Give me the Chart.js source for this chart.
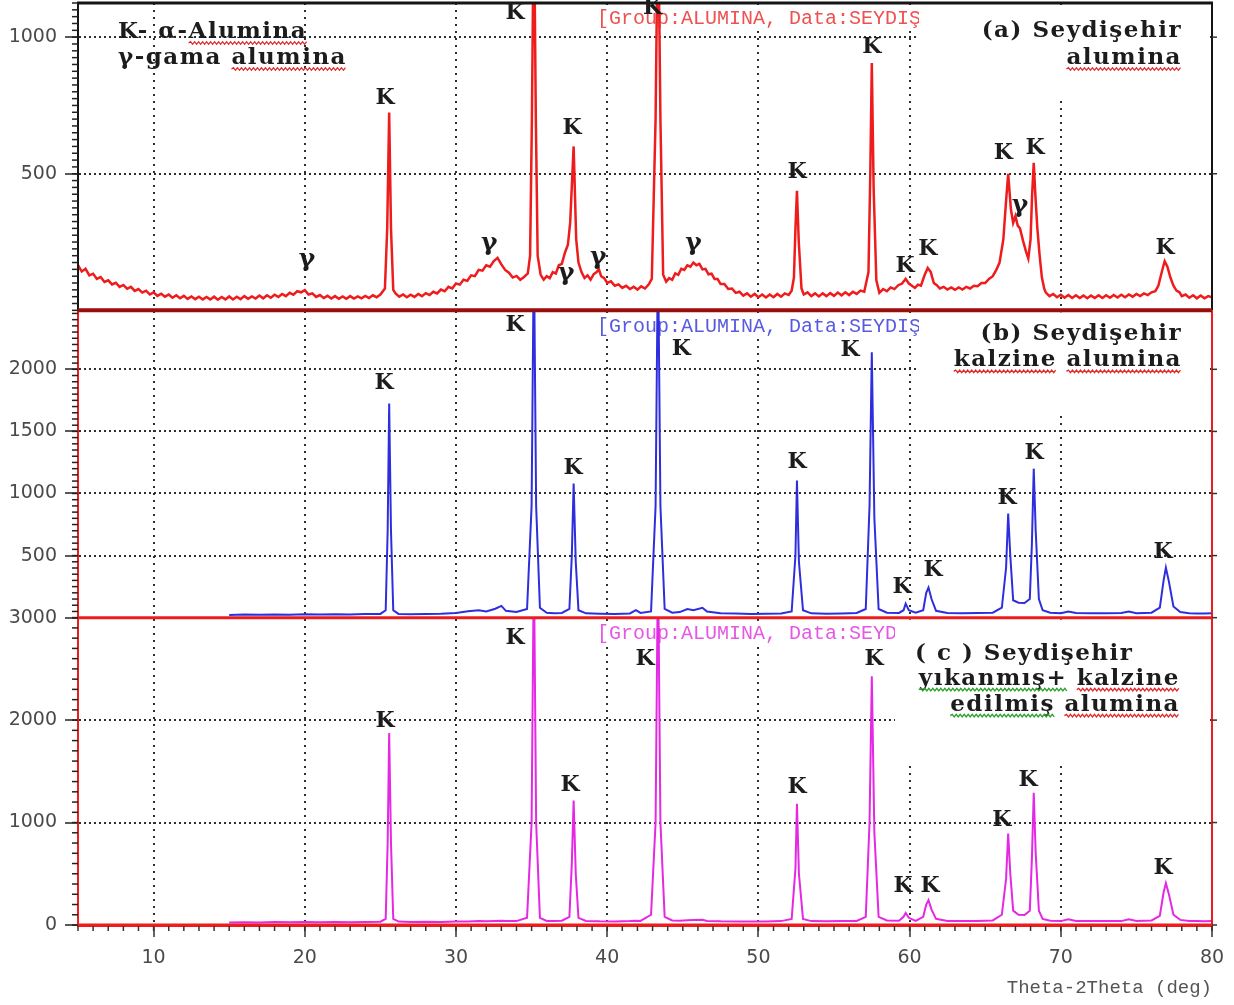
<!DOCTYPE html>
<html>
<head>
<meta charset="utf-8">
<title>XRD - Seydişehir alumina</title>
<script src="https://cdn.jsdelivr.net/npm/chart.js@4.4.1/dist/chart.umd.min.js"></script>
<style>
  html, body { margin: 0; padding: 0; background: #fff; }
</style>
</head>
<body>
<canvas id="xrd" width="1234" height="1005"></canvas>
<script>
// 2-theta tick labels
const xTicks = [10, 20, 30, 40, 50, 60, 70, 80];

// intensity tick labels for each panel
const aTicks = [500, 1000];
const bTicks = [500, 1000, 1500, 2000];
const cTicks = [0, 1000, 2000, 3000];

// (a) Seydişehir alumina  (2θ in deg, counts)
const aAngle = [
  5.00, 5.25, 5.50, 5.75, 6.00, 6.25, 6.50, 6.75, 7.00, 7.25,
  7.50, 7.75, 8.00, 8.25, 8.50, 8.75, 9.00, 9.25, 9.50, 9.75,
  10.00, 10.25, 10.50, 10.75, 11.00, 11.25, 11.50, 11.75, 12.00, 12.25,
  12.50, 12.75, 13.00, 13.25, 13.50, 13.75, 14.00, 14.25, 14.50, 14.75,
  15.00, 15.25, 15.50, 15.75, 16.00, 16.25, 16.50, 16.75, 17.00, 17.25,
  17.50, 17.75, 18.00, 18.25, 18.50, 18.75, 19.00, 19.25, 19.50, 19.75,
  20.00, 20.25, 20.50, 20.75, 21.00, 21.25, 21.50, 21.75, 22.00, 22.25,
  22.50, 22.75, 23.00, 23.25, 23.50, 23.75, 24.00, 24.25, 24.50, 24.75,
  25.00, 25.30, 25.45, 25.58, 25.70, 25.85, 26.00, 26.25, 26.50, 26.75,
  27.00, 27.25, 27.50, 27.75, 28.00, 28.25, 28.50, 28.75, 29.00, 29.25,
  29.50, 29.75, 30.00, 30.25, 30.50, 30.75, 31.00, 31.25, 31.50, 31.75,
  32.00, 32.25, 32.50, 32.75, 33.00, 33.25, 33.50, 33.75, 34.00, 34.25,
  34.50, 34.75, 34.90, 35.02, 35.15, 35.28, 35.40, 35.60, 35.80, 36.00,
  36.20, 36.40, 36.60, 36.80, 37.00, 37.20, 37.40, 37.55, 37.78, 37.95,
  38.10, 38.30, 38.50, 38.70, 38.90, 39.10, 39.30, 39.45, 39.60, 39.80,
  40.00, 40.25, 40.50, 40.75, 41.00, 41.25, 41.50, 41.75, 42.00, 42.25,
  42.50, 42.75, 42.95, 43.20, 43.36, 43.52, 43.70, 43.90, 44.10, 44.30,
  44.50, 44.70, 44.90, 45.10, 45.30, 45.50, 45.70, 45.90, 46.10, 46.30,
  46.50, 46.70, 46.90, 47.10, 47.30, 47.50, 47.75, 48.00, 48.25, 48.50,
  48.75, 49.00, 49.25, 49.50, 49.75, 50.00, 50.25, 50.50, 50.75, 51.00,
  51.25, 51.50, 51.75, 52.00, 52.20, 52.35, 52.45, 52.55, 52.67, 52.85,
  53.00, 53.25, 53.50, 53.75, 54.00, 54.25, 54.50, 54.75, 55.00, 55.25,
  55.50, 55.75, 56.00, 56.25, 56.50, 56.75, 57.00, 57.28, 57.40, 57.50,
  57.62, 57.80, 58.00, 58.25, 58.50, 58.75, 59.00, 59.25, 59.50, 59.74,
  59.95, 60.15, 60.35, 60.55, 60.75, 61.00, 61.20, 61.40, 61.60, 61.80,
  62.00, 62.25, 62.50, 62.75, 63.00, 63.25, 63.50, 63.75, 64.00, 64.25,
  64.50, 64.75, 65.00, 65.25, 65.50, 65.75, 65.95, 66.20, 66.38, 66.52,
  66.70, 66.85, 67.00, 67.15, 67.30, 67.50, 67.70, 67.85, 68.00, 68.10,
  68.21, 68.32, 68.45, 68.60, 68.75, 68.90, 69.00, 69.25, 69.50, 69.75,
  70.00, 70.25, 70.50, 70.75, 71.00, 71.25, 71.50, 71.75, 72.00, 72.25,
  72.50, 72.75, 73.00, 73.25, 73.50, 73.75, 74.00, 74.25, 74.50, 74.75,
  75.00, 75.25, 75.50, 75.75, 76.00, 76.25, 76.45, 76.70, 76.87, 77.05,
  77.25, 77.45, 77.65, 77.85, 78.00, 78.25, 78.50, 78.75, 79.00, 79.25,
  79.50, 79.75, 80.00
];
const aCounts = [
  165, 142, 152, 128, 134, 115, 122, 104, 110, 95,
  101, 86, 93, 79, 86, 71, 78, 65, 72, 58,
  66, 53, 61, 50, 58, 46, 55, 44, 53, 42,
  51, 41, 50, 40, 49, 40, 50, 39, 49, 40,
  51, 40, 50, 41, 52, 42, 51, 43, 54, 44,
  55, 46, 57, 49, 60, 52, 64, 57, 70, 66,
  74, 58, 62, 49, 56, 45, 53, 43, 52, 42,
  51, 42, 52, 43, 51, 44, 53, 45, 55, 48,
  58, 80, 300, 724, 300, 75, 62, 50, 58, 48,
  57, 49, 60, 52, 63, 56, 68, 62, 76, 70,
  86, 80, 98, 94, 112, 108, 128, 125, 148, 145,
  165, 160, 180, 192, 168, 148, 138, 120, 126, 112,
  122, 135, 200, 700, 1500, 700, 200, 130, 112, 125,
  118, 140, 135, 165, 170, 210, 240, 320, 600, 260,
  175, 140, 118, 128, 112, 132, 140, 150, 125, 118,
  100, 106, 90, 95, 82, 90, 78, 86, 76, 88,
  80, 95, 115, 700, 1500, 700, 130, 105, 118, 112,
  135, 130, 152, 148, 165, 160, 175, 165, 170, 150,
  152, 132, 134, 115, 115, 96, 96, 78, 80, 64,
  68, 54, 62, 50, 60, 48, 58, 47, 58, 48,
  60, 50, 62, 56, 72, 120, 300, 438, 250, 80,
  58, 66, 52, 62, 51, 62, 52, 63, 53, 65,
  55, 66, 56, 68, 60, 72, 68, 140, 500, 905,
  450, 110, 64, 78, 70, 84, 78, 92, 98, 115,
  98, 90, 82, 94, 90, 130, 155, 140, 100, 92,
  80, 86, 76, 84, 75, 84, 76, 86, 80, 90,
  88, 100, 100, 115, 125, 150, 175, 260, 400, 500,
  370, 320, 345, 310, 300, 255, 215, 190, 260, 420,
  540, 420, 300, 200, 120, 80, 66, 52, 60, 48,
  57, 46, 56, 45, 55, 45, 54, 44, 54, 45,
  55, 45, 55, 46, 56, 47, 57, 48, 58, 50,
  60, 52, 62, 56, 66, 70, 90, 145, 180, 160,
  120, 90, 72, 66, 52, 58, 46, 55, 44, 54,
  44, 52, 48
];

// (b) kalzine and (c) yıkanmış + kalzine: both scanned from 15 deg
const bcAngle = [
  15.0, 16.0, 17.0, 18.0, 19.0, 20.0, 21.0, 22.0, 23.0, 24.0,
  25.0, 25.35, 25.48, 25.58, 25.7, 25.85, 26.2, 27.0, 28.0, 29.0,
  30.0, 30.8, 31.5, 32.0, 32.6, 33.0, 33.3, 34.0, 34.7, 35.0,
  35.15, 35.3, 35.55, 36.0, 36.5, 37.0, 37.5, 37.66, 37.78, 37.92,
  38.1, 38.6, 39.5, 40.5, 41.5, 41.9, 42.2, 42.9, 43.2, 43.36,
  43.52, 43.8, 44.3, 44.8, 45.3, 45.7, 46.3, 46.6, 47.5, 48.5,
  49.5, 50.5, 51.5, 52.2, 52.45, 52.55, 52.68, 52.95, 53.5, 54.5,
  55.5, 56.5, 57.1, 57.35, 57.5, 57.67, 57.95, 58.5, 59.3, 59.6,
  59.74, 59.95, 60.4, 60.9, 61.1, 61.25, 61.45, 61.75, 62.5, 63.5,
  64.5, 65.5, 66.1, 66.38, 66.52, 66.66, 66.85, 67.2, 67.6, 67.95,
  68.09, 68.21, 68.34, 68.55, 68.8, 69.3, 70.0, 70.5, 71.0, 72.0,
  73.0, 74.0, 74.5, 75.0, 76.0, 76.55, 76.8, 76.95, 77.15, 77.45,
  77.9, 78.5, 79.0, 79.5, 80.0
];
const bCounts = [
  22, 25, 23, 26, 24, 27, 25, 28, 26, 29,
  30, 60, 700, 1725, 700, 60, 30, 28, 30, 32,
  38, 52, 60, 50, 72, 95, 55, 45, 70, 900,
  3000, 900, 80, 40, 35, 38, 70, 500, 1080, 450,
  60, 35, 32, 30, 34, 60, 38, 50, 900, 3000,
  900, 70, 40, 45, 70, 60, 80, 50, 35, 33,
  30, 32, 33, 50, 500, 1105, 450, 60, 35, 32,
  34, 38, 70, 900, 2137, 800, 70, 40, 38, 60,
  113, 60, 40, 60, 200, 242, 150, 55, 38, 36,
  38, 40, 80, 400, 838, 500, 140, 121, 118, 150,
  600, 1200, 700, 150, 60, 40, 36, 50, 38, 35,
  36, 38, 50, 36, 40, 80, 300, 403, 290, 90,
  45, 36, 34, 33, 35
];
const cCounts = [
  25, 28, 24, 30, 26, 29, 27, 30, 28, 30,
  32, 60, 800, 1874, 800, 60, 33, 30, 32, 30,
  33, 35, 38, 36, 40, 42, 38, 38, 70, 1000,
  3600, 1000, 70, 40, 38, 42, 80, 600, 1214, 500,
  70, 40, 36, 35, 38, 42, 40, 100, 1000, 3600,
  1000, 80, 45, 42, 46, 50, 52, 40, 36, 35,
  33, 35, 38, 60, 550, 1184, 500, 60, 38, 36,
  38, 40, 80, 1000, 2427, 900, 80, 45, 42, 80,
  117, 70, 40, 80, 200, 243, 150, 60, 40, 38,
  40, 45, 100, 450, 893, 500, 140, 100, 97, 140,
  650, 1291, 700, 140, 60, 42, 38, 55, 40, 38,
  40, 38, 55, 40, 45, 90, 320, 408, 300, 100,
  50, 40, 38, 36, 38
];

// phase marks: [2θ, counts, symbol]  K = α-alumina, γ = gama alumina
const aMarks = [
  [25.3, 776, 'K'], [33.9, 1088, 'K'], [37.67, 665, 'K'], [43.0, 1107, 'K'],
  [52.55, 504, 'K'], [57.5, 963, 'K'], [59.7, 162, 'K'], [61.2, 224, 'K'],
  [66.2, 574, 'K'], [68.3, 592, 'K'], [76.9, 228, 'K'],
  [20.15, 187, 'γ'], [32.2, 246, 'γ'], [37.3, 136, 'γ'], [39.4, 195, 'γ'],
  [45.7, 246, 'γ'], [67.3, 382, 'γ']
];
const bMarks = [
  [25.25, 1887, 'K'], [33.9, 2355, 'K'], [37.74, 1202, 'K'], [44.9, 2161, 'K'],
  [52.55, 1250, 'K'], [56.06, 2153, 'K'], [59.5, 242, 'K'], [61.55, 379, 'K'],
  [66.44, 960, 'K'], [68.23, 1323, 'K'], [76.76, 524, 'K']
];
const cMarks = [
  [25.3, 1990, 'K'], [33.9, 2796, 'K'], [37.54, 1359, 'K'], [42.5, 2592, 'K'],
  [52.55, 1340, 'K'], [57.65, 2592, 'K'], [59.56, 379, 'K'], [61.35, 379, 'K'],
  [66.1, 1019, 'K'], [67.83, 1408, 'K'], [76.76, 553, 'K']
];

const groupCaption = '[Group:ALUMINA, Data:SEYDIŞ';

function pts(xs, ys) {
  return xs.map((x, i) => ({ x: x, y: ys[i] }));
}

// text lines: [text, squiggle colour or null]
const RED = '#e0282a', GREEN = '#2aa02a';
const panels = [
  {
    axis: 'yA', marks: aMarks, minor: 25, group: '#ef5050', boxLeft: 293, boxH: 95,
    blocks: [
      { x: 40, from: 'left', align: 'left', dy: [29, 55], lines: [
        [['K- α-', null], ['Alumina', RED]],
        [['γ-gama ', null], ['alumina', RED]]
      ] },
      { x: 30, from: 'right', align: 'right', dy: [28, 55], lines: [
        [['(a) Seydişehir', null]],
        [['alumina', RED]]
      ] }
    ]
  },
  {
    axis: 'yB', marks: bMarks, minor: 50, group: '#5a5ae0', boxLeft: 293, boxH: 100,
    blocks: [
      { x: 30, from: 'right', align: 'right', dy: [24, 50], lines: [
        [['(b) Seydişehir', null]],
        [['kalzine', RED], [' ', null], ['alumina', RED]]
      ] }
    ]
  },
  {
    axis: 'yC', marks: cMarks, minor: 100, group: '#e458e4', boxLeft: 317, boxH: 142,
    blocks: [
      { x: 297, from: 'right', align: 'left', dy: [36], lines: [
        [['( c ) Seydişehir', null]]
      ] },
      { x: 32, from: 'right', align: 'right', dy: [61, 87], lines: [
        [['yıkanmış+', GREEN], [' ', null], ['kalzine', RED]],
        [['edilmiş', GREEN], [' ', null], ['alumina', RED]]
      ] }
    ]
  }
];

function squiggle(ctx, x0, x1, y, color) {
  ctx.save();
  ctx.strokeStyle = color;
  ctx.lineWidth = 1.3;
  ctx.beginPath();
  let up = true;
  ctx.moveTo(x0, y);
  for (let x = x0 + 2; x <= x1; x += 2) {
    ctx.lineTo(x, up ? y - 1.3 : y + 1.3);
    up = !up;
  }
  ctx.stroke();
  ctx.restore();
}

function drawWords(ctx, segs, x, y, align) {
  const total = segs.reduce((s, g) => s + ctx.measureText(g[0]).width, 0);
  let cx = align === 'right' ? x - total : x;
  ctx.textAlign = 'left';
  segs.forEach(([t, wave]) => {
    const w = ctx.measureText(t).width;
    ctx.fillText(t, cx, y);
    if (wave) squiggle(ctx, cx, cx + w, y + 11, wave);
    cx += w;
  });
}

function stroke(ctx, x1, y1, x2, y2, color, width) {
  ctx.save();
  ctx.strokeStyle = color;
  ctx.lineWidth = width;
  ctx.beginPath();
  ctx.moveTo(x1, y1);
  ctx.lineTo(x2, y2);
  ctx.stroke();
  ctx.restore();
}

// keep each pattern inside its own panel
const panelClip = {
  id: 'panelClip',
  beforeDatasetDraw(chart, args) {
    const ds = chart.data.datasets[args.index];
    const s = chart.scales[ds.yAxisID];
    const ca = chart.chartArea;
    chart.ctx.save();
    chart.ctx.beginPath();
    chart.ctx.rect(ca.left, s.top, ca.right - ca.left, s.bottom - s.top);
    chart.ctx.clip();
  },
  afterDatasetDraw(chart) {
    chart.ctx.restore();
  }
};

const decor = {
  id: 'decor',
  beforeDatasetsDraw(chart) {
    const { ctx, chartArea: ca } = chart;
    panels.forEach(p => {
      const s = chart.scales[p.axis];
      ctx.save();
      ctx.font = '20px "Liberation Mono"';
      ctx.textBaseline = 'middle';
      ctx.textAlign = 'left';
      const gx = ca.left + 519, gy = s.top + 16;
      const gw = ctx.measureText(groupCaption).width;
      ctx.fillStyle = '#fff';
      ctx.fillRect(gx - 2, gy - 11, gw + 4, 22);
      ctx.fillStyle = p.group;
      ctx.fillText(groupCaption, gx, gy);
      // white box under the sample name
      ctx.fillStyle = '#fff';
      ctx.fillRect(ca.right - p.boxLeft, s.top + 2, p.boxLeft - 2, p.boxH);
      ctx.restore();
    });
  },
  afterDatasetsDraw(chart) {
    const { ctx, chartArea: ca } = chart;
    const xs = chart.scales.x;
    const A = chart.scales.yA, B = chart.scales.yB, C = chart.scales.yC;

    // frames
    stroke(ctx, ca.left - 1, ca.top, ca.right + 1, ca.top, '#151515', 3);
    stroke(ctx, ca.left, A.top, ca.left, A.bottom, '#151515', 2);
    stroke(ctx, ca.right, A.top, ca.right, A.bottom, '#151515', 2);
    stroke(ctx, ca.left, B.top, ca.left, C.bottom, '#ee1c1c', 2);
    stroke(ctx, ca.right, B.top, ca.right, C.bottom, '#ee1c1c', 2);
    stroke(ctx, ca.left, A.bottom, ca.right, A.bottom, '#9a0e0e', 4);
    stroke(ctx, ca.left, B.bottom, ca.right, B.bottom, '#ee1c1c', 3);
    stroke(ctx, ca.left, C.bottom, ca.right, C.bottom, '#ee1c1c', 3);

    // minor ticks
    panels.forEach(p => {
      const s = chart.scales[p.axis];
      for (let v = s.min; v <= s.max; v += p.minor) {
        const y = s.getPixelForValue(v);
        stroke(ctx, ca.left - 6, y, ca.left, y, '#222', 1.5);
      }
      s.ticks.forEach(t => {
        const y = s.getPixelForValue(t.value);
        stroke(ctx, ca.right, y, ca.right + 5, y, '#333', 1.5);
      });
    });
    for (let d = xs.min; d <= xs.max; d += 1) {
      const x = xs.getPixelForValue(d);
      stroke(ctx, x, ca.bottom + 1, x, ca.bottom + 6, '#333', 1.5);
    }

    // phase marks
    ctx.save();
    ctx.fillStyle = '#1c1c1c';
    ctx.textAlign = 'center';
    ctx.textBaseline = 'middle';
    panels.forEach(p => {
      const s = chart.scales[p.axis];
      p.marks.forEach(([d, v, t]) => {
        ctx.font = t === 'K' ? 'bold 22px "DejaVu Serif"' : 'bold 25px "DejaVu Serif"';
        ctx.fillText(t, xs.getPixelForValue(d), s.getPixelForValue(v));
      });
    });
    ctx.restore();

    // sample names
    ctx.save();
    ctx.fillStyle = '#1c1c1c';
    ctx.textBaseline = 'middle';
    ctx.font = 'bold 23px "DejaVu Serif"';
    ctx.letterSpacing = '1.5px';
    panels.forEach(p => {
      const s = chart.scales[p.axis];
      p.blocks.forEach(b => {
        const x = b.from === 'left' ? ca.left + b.x : ca.right - b.x;
        b.lines.forEach((segs, i) => drawWords(ctx, segs, x, s.top + b.dy[i], b.align));
      });
    });
    ctx.restore();
  }
};

const tickFont = { family: 'DejaVu Sans', size: 19 };
const dotted = '#2e2e2e';

function yScale(ticks, max, weight, edge) {
  return {
    type: 'linear',
    position: 'left',
    stack: 'xrd',
    stackWeight: 1,
    weight: weight,
    min: 0,
    max: max,
    afterBuildTicks: s => { s.ticks = ticks.map(v => ({ value: v })); },
    afterFit: s => { s.width = 78; s.paddingTop = 0; s.paddingBottom = 0; },
    grid: {
      color: c => (c.tick && (c.tick.value === 0 || c.tick.value === 3000)) ? 'transparent' : dotted,
      lineWidth: 2,
      tickLength: 13,
      tickColor: '#222',
      tickWidth: 1.5
    },
    border: { color: edge, width: 2, dash: [2, 3] },
    ticks: { font: tickFont, color: '#4a4a4a', padding: 8, callback: v => String(v) }
  };
}

new Chart(document.getElementById('xrd'), {
  type: 'line',
  data: {
    datasets: [
      { label: '(a) Seydişehir alumina', data: pts(aAngle, aCounts), yAxisID: 'yA',
        borderColor: 'rgb(238,28,28)', borderWidth: 2.5 },
      { label: '(b) Seydişehir kalzine alumina', data: pts(bcAngle, bCounts), yAxisID: 'yB',
        borderColor: 'rgb(46,46,222)', borderWidth: 2 },
      { label: '(c) Seydişehir yıkanmış+ kalzine edilmiş alumina', data: pts(bcAngle, cCounts), yAxisID: 'yC',
        borderColor: 'rgb(228,40,228)', borderWidth: 2 }
    ]
  },
  options: {
    responsive: false,
    animation: false,
    events: [],
    elements: { point: { radius: 0 }, line: { tension: 0 } },
    layout: { padding: { top: 3, right: 22, left: 0, bottom: 0 } },
    plugins: { legend: { display: false }, tooltip: { enabled: false } },
    scales: {
      x: {
        type: 'linear',
        min: 5,
        max: 80,
        afterBuildTicks: s => { s.ticks = xTicks.map(v => ({ value: v })); },
        afterFit: s => { s.height = 80; s.paddingLeft = 0; s.paddingRight = 0; },
        grid: {
          color: c => (c.tick && c.tick.value < 80) ? dotted : 'transparent',
          lineWidth: 2,
          tickLength: 12,
          tickColor: '#333',
          tickWidth: 1.5
        },
        border: { color: '#ee1c1c', width: 3, dash: [2, 5] },
        ticks: { font: tickFont, color: '#4a4a4a', padding: 10, maxRotation: 0, autoSkip: false,
                 callback: v => String(v) },
        title: { display: true, text: 'Theta-2Theta (deg)', align: 'end', color: '#555',
                 font: { family: 'Liberation Mono', size: 19 }, padding: { top: 0, bottom: 6 } }
      },
      yA: yScale(aTicks, 1125, 3, '#151515'),
      yB: yScale(bTicks, 2475, 2, '#ee1c1c'),
      yC: yScale(cTicks, 3000, 1, '#ee1c1c')
    }
  },
  plugins: [panelClip, decor]
});
</script>
</body>
</html>
